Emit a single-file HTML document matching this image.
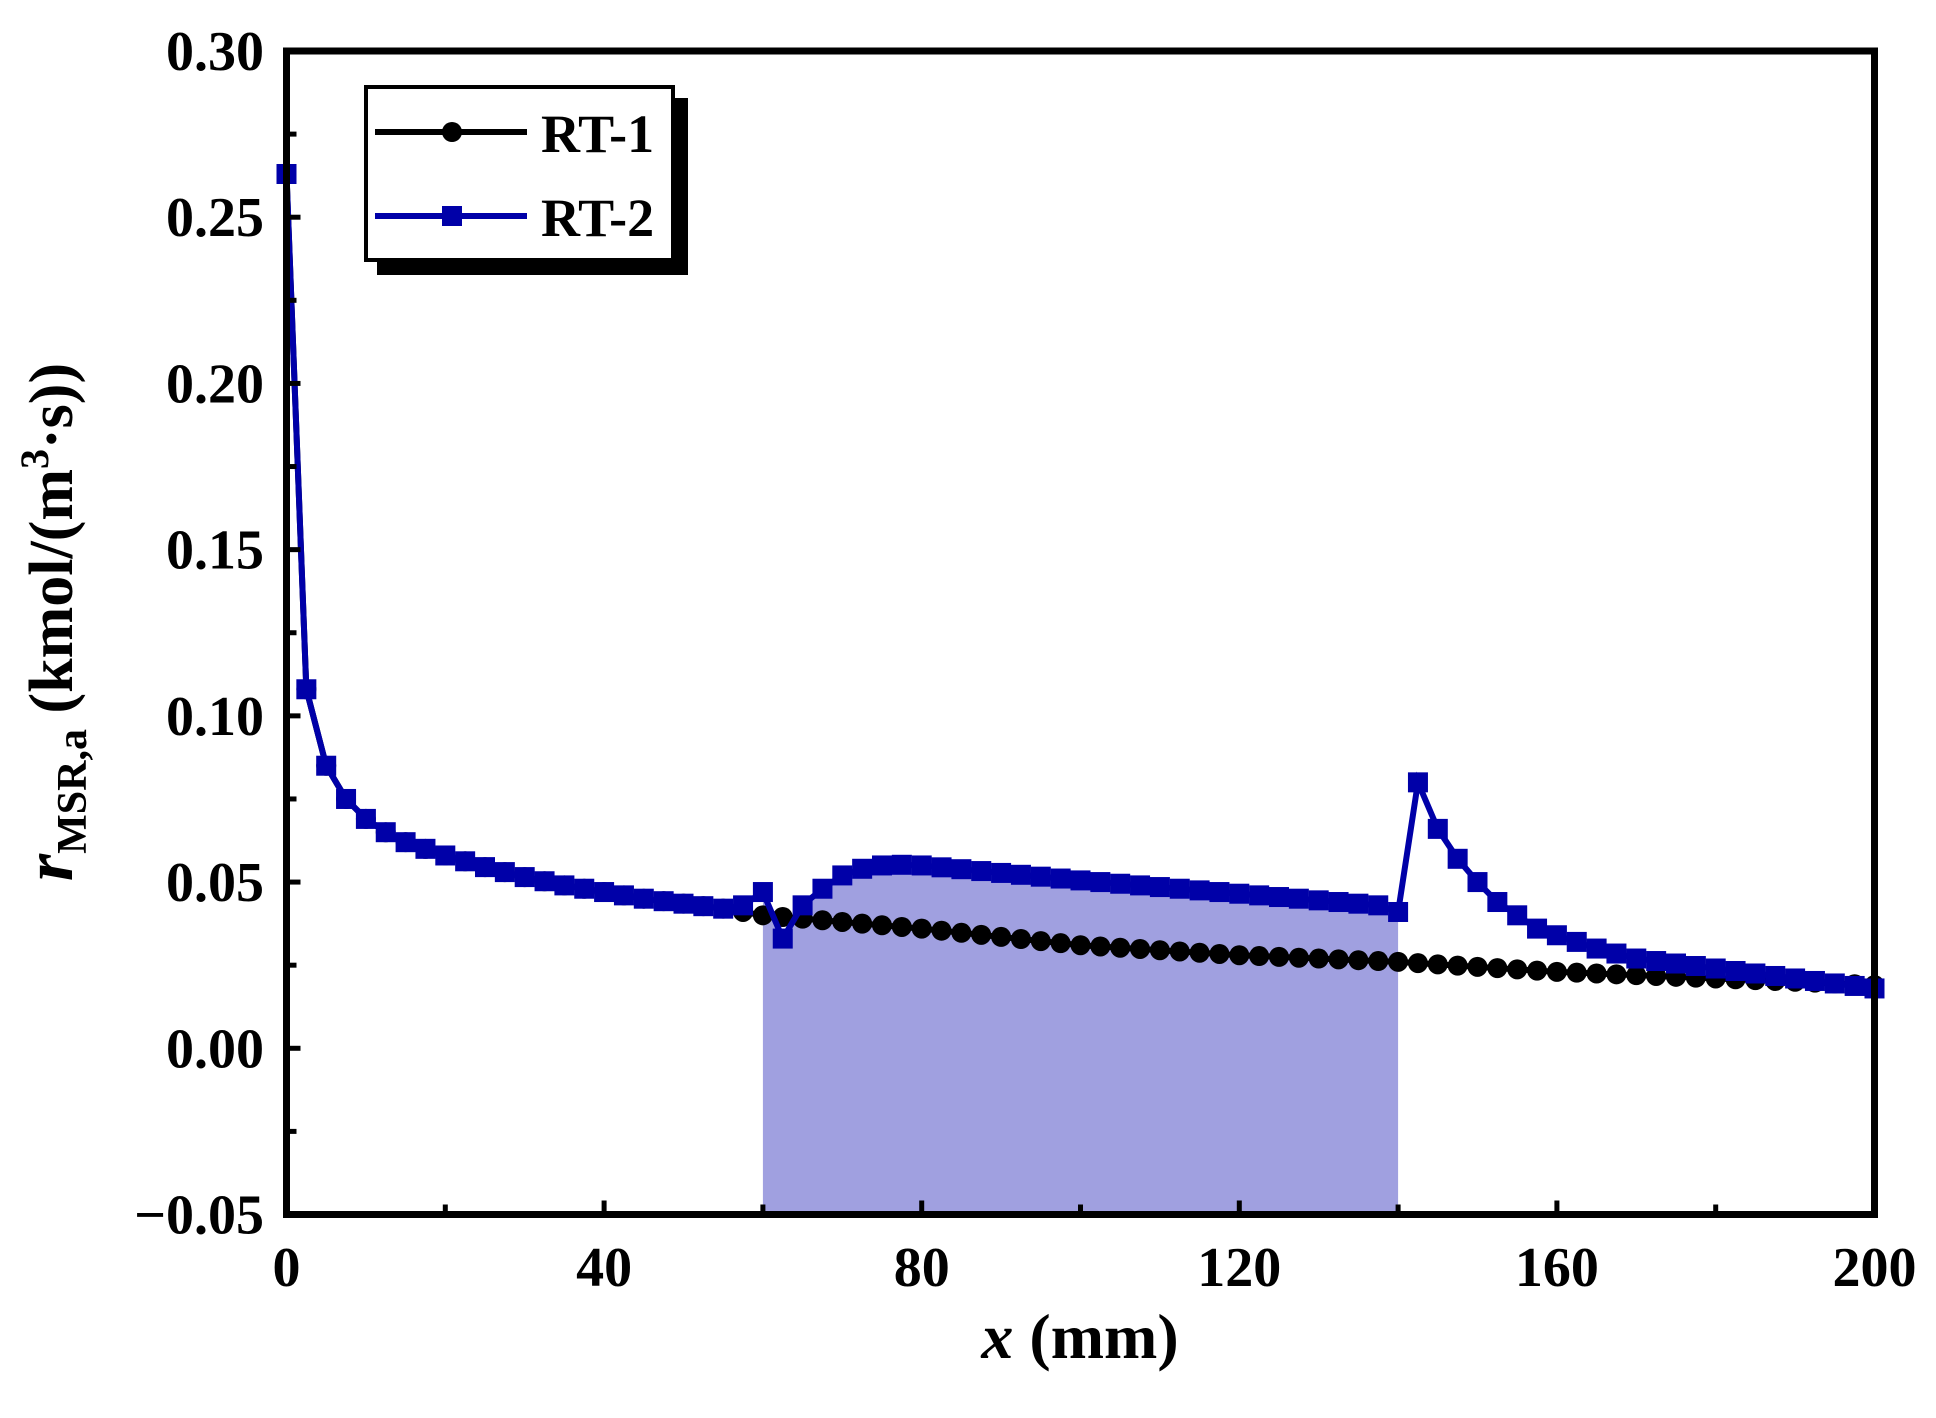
<!DOCTYPE html>
<html><head><meta charset="utf-8"><style>
html,body{margin:0;padding:0;background:#fff;}
svg{display:block;font-family:"Liberation Serif",serif;font-weight:bold;}
</style></head><body>
<svg id="s" width="1936" height="1418" viewBox="0 0 1936 1418" xmlns="http://www.w3.org/2000/svg"></svg>
<script>
const L=286.5,R=1874.5,T=51,B=1214.5;
const X=x=>L+(x/200)*(R-L), Y=v=>T+(0.30-v)/0.35*(B-T);
function interp(pts,x){for(let i=0;i<pts.length-1;i++){if(x>=pts[i][0]&&x<=pts[i+1][0]){const t=(x-pts[i][0])/(pts[i+1][0]-pts[i][0]);return pts[i][1]+t*(pts[i+1][1]-pts[i][1]);}}return pts[pts.length-1][1];}
const base=[[0,0.263],[2.5,0.108],[5,0.085],[7.5,0.075],[10,0.069],[12.5,0.065],[15,0.062],[17.5,0.060],[20,0.058],[25,0.0545],[30,0.0515],[35,0.049],[40,0.047],[45,0.045],[50,0.0435],[55,0.042],[60,0.040],[70,0.038],[80,0.036],[90,0.0335],[100,0.031],[110,0.0295],[120,0.028],[140,0.026],[160,0.023],[180,0.021],[200,0.019]];
const rt2k=[[0,0.263],[2.5,0.108],[5,0.085],[7.5,0.075],[10,0.069],[12.5,0.065],[15,0.062],[17.5,0.060],[20,0.058],[25,0.0545],[30,0.0515],[35,0.049],[40,0.047],[45,0.045],[50,0.0435],[55,0.042],[57.5,0.043],[60,0.047],[62.5,0.033],[65,0.043],[67.5,0.048],[70,0.052],[72.5,0.054],[75,0.055],[77.5,0.0552],[80,0.055],[100,0.0505],[120,0.0465],[137.5,0.043],[140,0.041],[142.5,0.080],[145,0.066],[147.5,0.057],[150,0.050],[152.5,0.044],[155,0.040],[157.5,0.036],[160,0.034],[165,0.030],[170,0.027],[180,0.024],[190,0.021],[200,0.018]];
let xs=[];for(let i=0;i<=80;i++)xs.push(i*2.5);
const p1=xs.map(x=>[X(x),Y(interp(base,x))]), p2=xs.map(x=>[X(x),Y(interp(rt2k,x))]);
let h='';
let f='M'+X(60)+','+B;xs.filter(x=>x>=60&&x<=140).forEach(x=>f+=' L'+X(x)+','+Y(interp(rt2k,x)));f+=' L'+X(140)+','+B+'Z';
h+=`<path d="${f}" fill="#a0a0e0"/>`;
h+=`<polyline points="${p1.map(p=>p.join(',')).join(' ')}" fill="none" stroke="#000" stroke-width="6"/>`;
p1.forEach(p=>h+=`<circle cx="${p[0]}" cy="${p[1]}" r="10" fill="#000"/>`);
h+=`<polyline points="${p2.map(p=>p.join(',')).join(' ')}" fill="none" stroke="#0000a8" stroke-width="6"/>`;
p2.forEach(p=>h+=`<rect x="${p[0]-10}" y="${p[1]-10}" width="20" height="20" fill="#0000a8"/>`);
for(let x=0;x<=200;x+=20){const l=(x%40==0)?14:10;h+=`<line x1="${X(x)}" y1="${B}" x2="${X(x)}" y2="${B-l}" stroke="#000" stroke-width="5"/>`;if(x%40==0)h+=`<text x="${X(x)}" y="1286" font-size="56" text-anchor="middle">${x}</text>`;}
for(let i=0;i<=14;i++){const v=-0.05+i*0.025;const l=(i%2==0)?14:10;h+=`<line x1="${L}" y1="${Y(v)}" x2="${L+l}" y2="${Y(v)}" stroke="#000" stroke-width="5"/>`;if(i%2==0){const s=v<-0.001?'\u22120.05':v.toFixed(2);h+=`<text x="264" y="${Y(v)+19}" font-size="56" text-anchor="end">${s}</text>`;}}
h+=`<rect x="${L}" y="${T}" width="${R-L}" height="${B-T}" fill="none" stroke="#000" stroke-width="7"/>`;
h+=`<rect x="377" y="98" width="311" height="177" fill="#000"/>`;
h+=`<rect x="366" y="87" width="307" height="173" fill="#fff" stroke="#000" stroke-width="4"/>`;
h+=`<line x1="375" y1="132" x2="527" y2="132" stroke="#000" stroke-width="6"/><circle cx="452" cy="132" r="10" fill="#000"/>`;
h+=`<text x="541" y="152" font-size="54">RT-1</text>`;
h+=`<line x1="375" y1="216" x2="527" y2="216" stroke="#0000a8" stroke-width="6"/><rect x="442" y="206" width="20" height="20" fill="#0000a8"/>`;
h+=`<text x="541" y="236" font-size="54">RT-2</text>`;
h+=`<text x="1080" y="1358" font-size="64" text-anchor="middle"><tspan font-style="italic">x</tspan> (mm)</text>`;
h+=`<text transform="translate(72,622) rotate(-90)" font-size="62" text-anchor="middle"><tspan font-style="italic" font-size="70">r</tspan><tspan font-size="42" dy="14">MSR,a</tspan><tspan dy="-14"> (kmol/(m</tspan><tspan font-size="40" dy="-24">3</tspan><tspan dy="24">·s))</tspan></text>`;
document.getElementById('s').innerHTML=h;
</script>
</body></html>
